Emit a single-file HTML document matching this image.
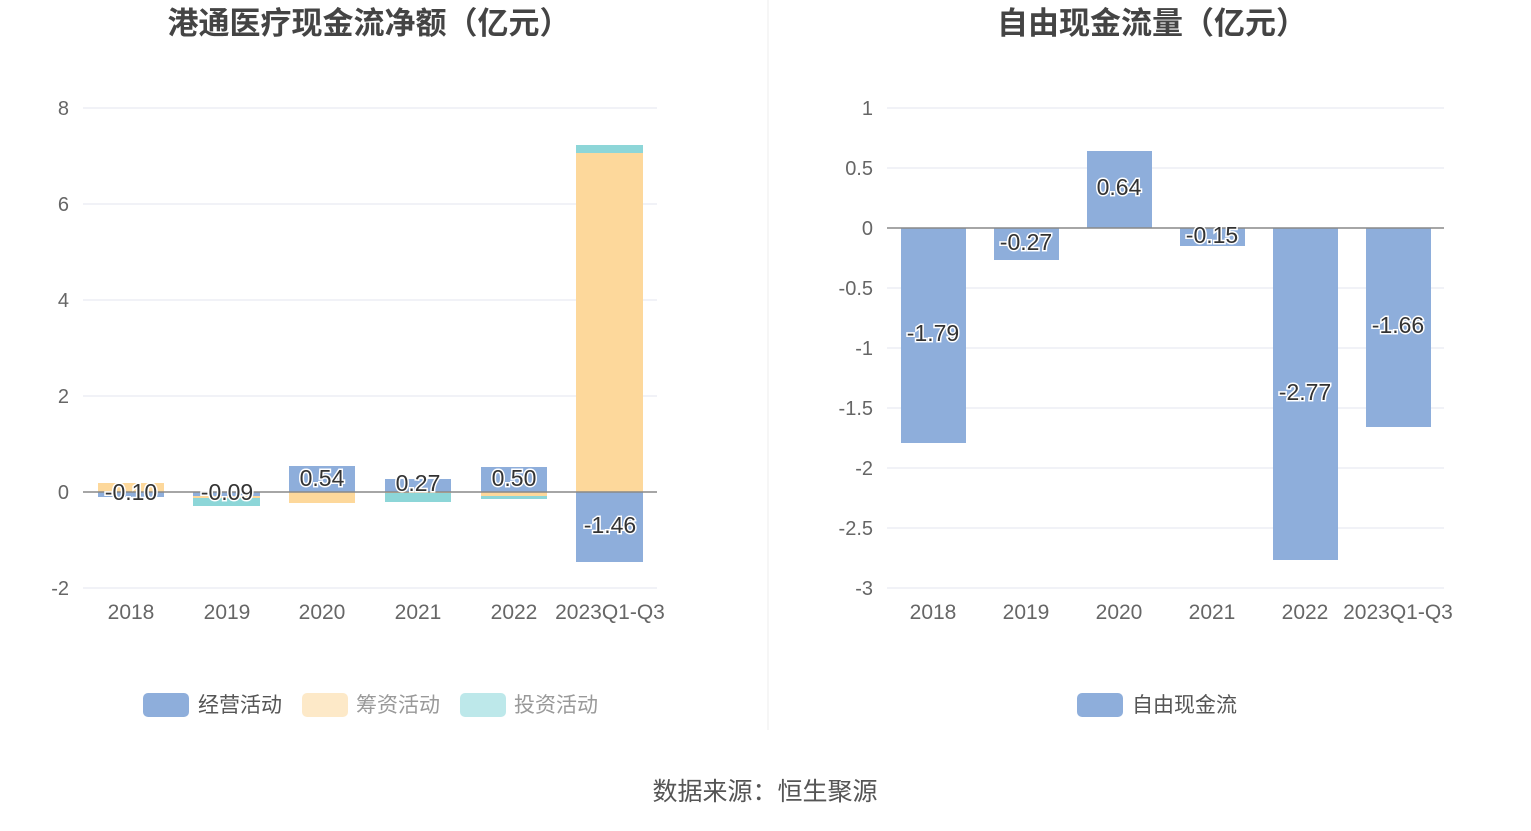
<!DOCTYPE html>
<html><head><meta charset="utf-8"><style>
body{margin:0;background:#fff;}
svg text{font-family:"Liberation Sans","Noto Sans CJK SC",sans-serif;}
</style></head><body>
<svg width="1531" height="826" viewBox="0 0 1531 826" xmlns="http://www.w3.org/2000/svg">
<rect width="1531" height="826" fill="#fff"/>
<line x1="768" y1="0" x2="768" y2="730" stroke="#eee"/>
<g font-size="31" font-weight="bold" fill="#444" text-anchor="middle">
<text x="369" y="34">港通医疗现金流净额（亿元）</text>
<text x="1152" y="34">自由现金流量（亿元）</text>
</g>
<g stroke="#e3e6ef" stroke-width="1">
<line x1="83" y1="108" x2="657" y2="108"/><line x1="83" y1="204" x2="657" y2="204"/>
<line x1="83" y1="300" x2="657" y2="300"/><line x1="83" y1="396" x2="657" y2="396"/>
<line x1="83" y1="588" x2="657" y2="588"/>
</g>
<g font-size="20" fill="#666" text-anchor="end">
<text x="69" y="115">8</text><text x="69" y="211">6</text><text x="69" y="307">4</text>
<text x="69" y="403">2</text><text x="69" y="499">0</text><text x="69" y="595">-2</text>
</g>
<g font-size="21" fill="#666" text-anchor="middle">
<text x="131" y="619">2018</text><text x="227" y="619">2019</text><text x="322" y="619">2020</text>
<text x="418" y="619">2021</text><text x="514" y="619">2022</text><text x="610" y="619">2023Q1-Q3</text>
</g>
<g>
<rect x="98" y="483" width="66" height="9" fill="#fdd89b"/><rect x="98" y="492" width="66" height="5" fill="#8eaedb"/>
<rect x="193" y="492" width="67" height="4" fill="#8eaedb"/><rect x="193" y="496" width="67" height="2" fill="#fdd89b"/><rect x="193" y="498" width="67" height="8" fill="#8dd6d8"/>
<rect x="289" y="466" width="66" height="26" fill="#8eaedb"/><rect x="289" y="492" width="66" height="11" fill="#fdd89b"/>
<rect x="385" y="479" width="66" height="13" fill="#8eaedb"/><rect x="385" y="492" width="66" height="1" fill="#fdd89b"/><rect x="385" y="493" width="66" height="9" fill="#8dd6d8"/>
<rect x="481" y="467" width="66" height="25" fill="#8eaedb"/><rect x="481" y="492" width="66" height="4" fill="#fdd89b"/><rect x="481" y="496" width="66" height="3" fill="#8dd6d8"/>
<rect x="576" y="153" width="67" height="339" fill="#fdd89b"/><rect x="576" y="145" width="67" height="8" fill="#8dd6d8"/><rect x="576" y="492" width="67" height="70" fill="#8eaedb"/>
</g>
<line x1="83" y1="492" x2="657" y2="492" stroke="#888" stroke-width="1.5"/>
<g font-size="23" fill="#333" text-anchor="middle" stroke="#fff" stroke-width="3" paint-order="stroke">
<text x="131" y="500">-0.10</text><text x="227" y="500">-0.09</text><text x="322" y="486">0.54</text>
<text x="418" y="491">0.27</text><text x="514" y="486">0.50</text><text x="610" y="533">-1.46</text>
</g>
<rect x="143" y="693" width="46" height="24" rx="5" fill="#8eaedb"/>
<rect x="302" y="693" width="46" height="24" rx="5" fill="#fde9c8"/>
<rect x="460" y="693" width="46" height="24" rx="5" fill="#bde8ea"/>
<g font-size="21" fill="#555">
<text x="198" y="712">经营活动</text><text x="356" y="712" fill="#999">筹资活动</text><text x="514" y="712" fill="#999">投资活动</text>
</g>
<g stroke="#e3e6ef" stroke-width="1">
<line x1="887" y1="108" x2="1444" y2="108"/><line x1="887" y1="168" x2="1444" y2="168"/>
<line x1="887" y1="288" x2="1444" y2="288"/><line x1="887" y1="348" x2="1444" y2="348"/>
<line x1="887" y1="408" x2="1444" y2="408"/><line x1="887" y1="468" x2="1444" y2="468"/>
<line x1="887" y1="528" x2="1444" y2="528"/><line x1="887" y1="588" x2="1444" y2="588"/>
</g>
<g font-size="20" fill="#666" text-anchor="end">
<text x="873" y="115">1</text><text x="873" y="175">0.5</text><text x="873" y="235">0</text>
<text x="873" y="295">-0.5</text><text x="873" y="355">-1</text><text x="873" y="415">-1.5</text>
<text x="873" y="475">-2</text><text x="873" y="535">-2.5</text><text x="873" y="595">-3</text>
</g>
<g font-size="21" fill="#666" text-anchor="middle">
<text x="933" y="619">2018</text><text x="1026" y="619">2019</text><text x="1119" y="619">2020</text>
<text x="1212" y="619">2021</text><text x="1305" y="619">2022</text><text x="1398" y="619">2023Q1-Q3</text>
</g>
<g fill="#8eaedb">
<rect x="901" y="228" width="65" height="215"/>
<rect x="994" y="228" width="65" height="32"/>
<rect x="1087" y="151" width="65" height="77"/>
<rect x="1180" y="228" width="65" height="18"/>
<rect x="1273" y="228" width="65" height="332"/>
<rect x="1366" y="228" width="65" height="199"/>
</g>
<line x1="887" y1="228" x2="1444" y2="228" stroke="#888" stroke-width="1.5"/>
<g font-size="23" fill="#333" text-anchor="middle" stroke="#fff" stroke-width="3" paint-order="stroke">
<text x="933" y="341">-1.79</text><text x="1026" y="250">-0.27</text><text x="1119" y="195">0.64</text>
<text x="1212" y="243">-0.15</text><text x="1305" y="400">-2.77</text><text x="1398" y="333">-1.66</text>
</g>
<rect x="1077" y="693" width="46" height="24" rx="5" fill="#8eaedb"/>
<text x="1132" y="712" font-size="21" fill="#555">自由现金流</text>
<text x="765" y="800" font-size="25" fill="#555" text-anchor="middle">数据来源：恒生聚源</text>
</svg>
</body></html>
